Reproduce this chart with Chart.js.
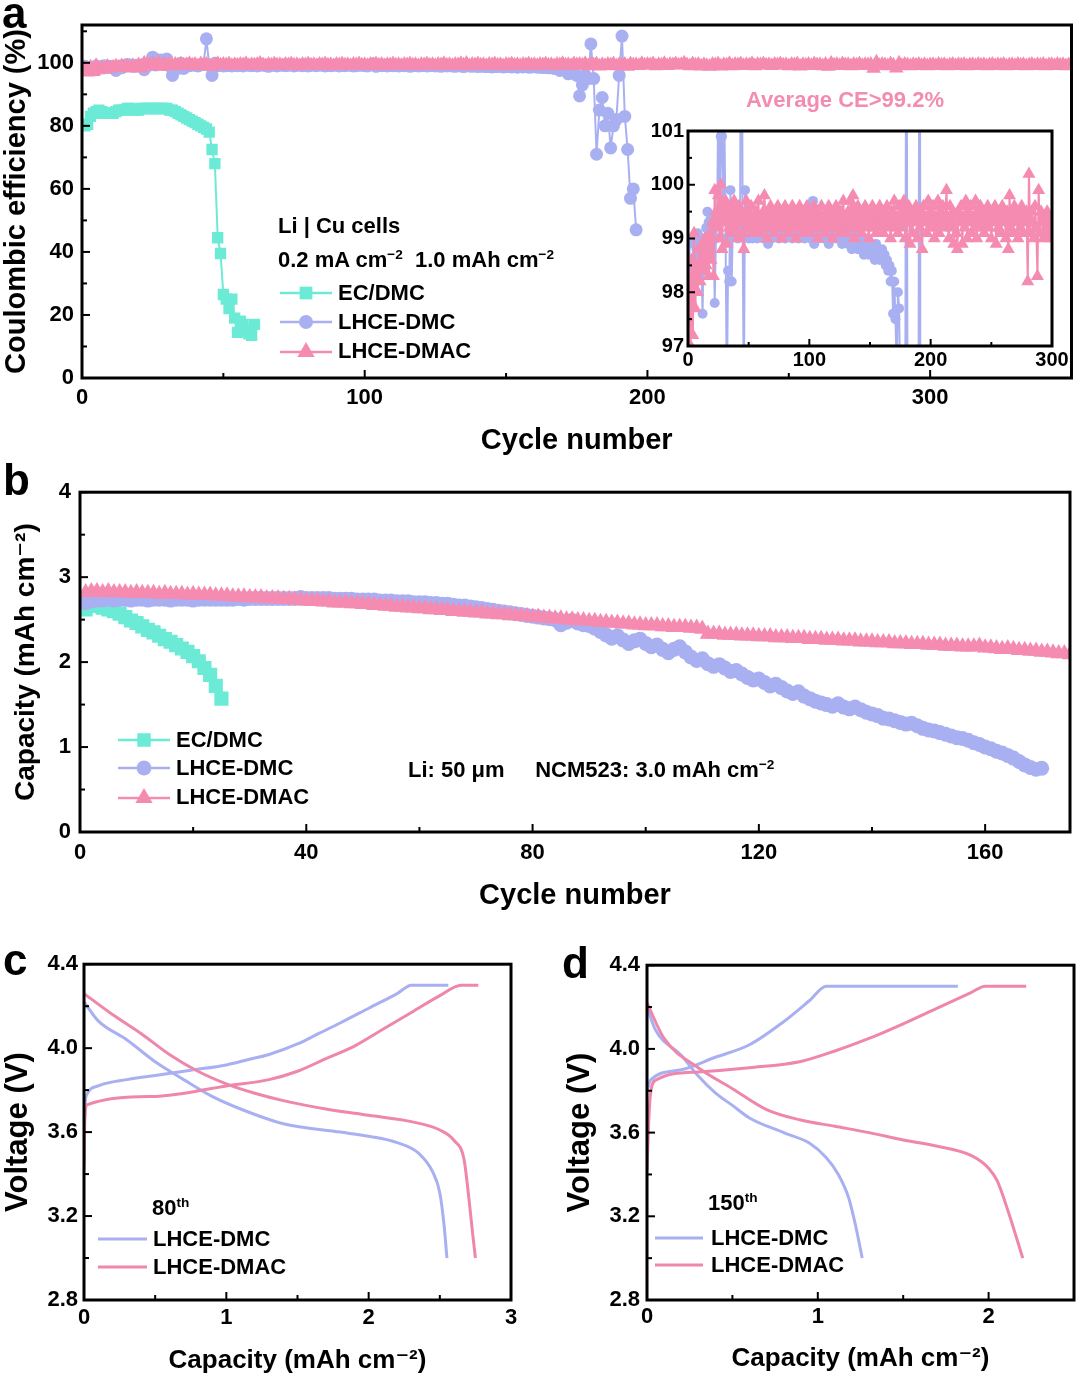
<!DOCTYPE html>
<html><head><meta charset="utf-8">
<script src="https://cdn.jsdelivr.net/npm/chart.js@4.4.0/dist/chart.umd.min.js"></script>
<style>
html,body{margin:0;padding:0;background:#fff;}
#wrap{position:relative;width:1080px;height:1377px;overflow:hidden;font-family:'Liberation Sans',Arial,'DejaVu Sans',sans-serif;color:#000;background:#fff;}
canvas{position:absolute;}
.t{position:absolute;white-space:nowrap;line-height:1;font-weight:bold;font-size:22px;}
.t sup{font-size:0.62em;vertical-align:super;line-height:0;}
.lbl{font-size:44px;}
</style></head><body><div id="wrap">
<canvas id="cA" width="1080" height="460" style="left:0;top:0"></canvas>
<canvas id="cI" width="440" height="260" style="left:640px;top:115px"></canvas>
<canvas id="cB" width="1080" height="450" style="left:0;top:470px"></canvas>
<canvas id="cC" width="540" height="432" style="left:0;top:945px"></canvas>
<canvas id="cD" width="520" height="432" style="left:560px;top:945px"></canvas>

<div class="t lbl" style="left:2px;top:-9px">a</div>
<div class="t lbl" style="left:3px;top:458px">b</div>
<div class="t lbl" style="left:3px;top:938px">c</div>
<div class="t lbl" style="left:562px;top:941px">d</div>

<div class="t" style="left:278px;top:215px">Li | Cu cells</div>
<div class="t" style="left:278px;top:249px">0.2 mA cm<sup>−2</sup>&nbsp; 1.0 mAh cm<sup>−2</sup></div>
<div class="t" style="left:338px;top:282px">EC/DMC</div>
<div class="t" style="left:338px;top:311px">LHCE-DMC</div>
<div class="t" style="left:338px;top:340px">LHCE-DMAC</div>
<div class="t" style="left:845px;top:89px;transform:translateX(-50%);color:#F28CB1">Average CE&gt;99.2%</div>

<div class="t" style="left:176px;top:729px">EC/DMC</div>
<div class="t" style="left:176px;top:757px">LHCE-DMC</div>
<div class="t" style="left:176px;top:786px">LHCE-DMAC</div>
<div class="t" style="left:408px;top:759px">Li: 50 μm&nbsp;&nbsp;&nbsp;&nbsp; NCM523: 3.0 mAh cm<sup>−2</sup></div>

<div class="t" style="left:152px;top:1197px">80<sup>th</sup></div>
<div class="t" style="left:153px;top:1228px">LHCE-DMC</div>
<div class="t" style="left:153px;top:1256px">LHCE-DMAC</div>

<div class="t" style="left:708px;top:1192px">150<sup>th</sup></div>
<div class="t" style="left:711px;top:1227px">LHCE-DMC</div>
<div class="t" style="left:711px;top:1254px">LHCE-DMAC</div>
</div>
<script>
// ---------------- DATA ----------------
const seriesNames = ['EC/DMC', 'LHCE-DMC', 'LHCE-DMAC'];
const colors = { ec: '#6BEBD6', dmc: '#A9B0F2', dmac: '#F58BB1', dmacLine: '#EF86AB' };

// Panel a: Coulombic efficiency (%) per cycle (cycle = index + 1)
const ceEC = [80.0, 80.5, 83.0, 84.0, 84.5, 85.0, 84.5, 84.0, 84.0, 84.0,
  84.0, 84.5, 85.0, 85.0, 85.0, 85.5, 85.5, 85.0, 85.0, 85.0,
  85.5, 85.5, 85.5, 85.5, 85.5, 85.5, 85.5, 85.5, 85.5, 85.5,
  85.0, 85.0, 84.5, 84.0, 83.5, 83.0, 82.5, 82.0, 81.5, 81.0,
  80.5, 80.0, 79.5, 79.0, 78.0, 72.5, 68.0, 44.5, 39.5, 26.5,
  25.0, 22.0, 25.0, 19.0, 14.5, 18.0, 17.0, 15.0, 14.0, 13.5, 17.0];

const ceDMC = [98.9, 98.3, 97.8, 98.6, 99.0, 98.2, 98.8, 99.1, 98.5, 98.9,
  98.7, 97.6, 99.0, 98.4, 99.2, 99.5, 99.3, 98.9, 99.2, 99.1,
  99.4, 97.8, 99.0, 99.3, 101.8, 99.3, 100.9, 100.9, 99.5, 101.2,
  99.0, 96.0, 98.4, 98.2, 99.9, 98.2, 99.3, 99.1, 99.4, 99.2,
  99.0, 99.3, 99.5, 107.6, 99.2, 96.0, 99.9, 99.1, 99.3, 99.0,
  99.1, 99.2, 99.0, 99.3, 99.1, 99.2, 99.0, 99.3, 99.2, 99.1,
  99.3, 99.0, 99.2, 99.4, 99.1, 98.9, 99.2, 99.3, 99.0, 99.2,
  99.3, 99.1, 99.2, 99.4, 99.0, 99.2, 99.3, 99.1, 99.2, 99.0,
  99.2, 99.3, 99.1, 99.4, 99.2, 99.0, 99.3, 99.1, 99.2, 99.3,
  99.0, 99.2, 99.1, 99.3, 99.2, 99.0, 99.1, 99.3, 99.2, 99.1,
  99.0, 99.3, 99.7, 98.9, 99.2, 99.1, 99.3, 99.0, 99.2, 99.1,
  99.2, 99.0, 99.3, 99.1, 99.2, 98.9, 99.1, 99.2, 99.0, 99.1,
  99.2, 99.0, 99.1, 99.3, 99.0, 99.1, 98.9, 99.2, 99.0, 99.1,
  99.0, 98.9, 99.1, 99.0, 98.8, 99.1, 99.0, 98.9, 99.2, 98.8,
  99.0, 98.9, 98.8, 99.0, 98.7, 98.9, 98.8, 99.0, 98.7, 98.8,
  98.9, 98.7, 98.8, 98.6, 98.9, 98.7, 98.8, 98.6, 98.7, 98.8,
  98.6, 98.7, 98.5, 98.6, 98.4, 98.5, 98.2, 98.4, 97.6, 98.2,
  97.5, 96.5, 98.0, 97.7, 96.0, 89.5, 93.0, 96.0, 95.0, 106.0,
  95.0, 71.0, 85.0, 89.0, 80.0, 84.0, 73.0, 80.0, 82.0, 96.0,
  108.5, 83.0, 72.5, 57.0, 60.0, 47.0];

const ceDMAC = [98.3, 97.0, 98.6, 97.2, 99.1, 97.7, 98.5, 98.0, 98.8, 98.2,
  98.6, 98.9, 98.4, 99.0, 98.5, 98.9, 98.3, 99.1, 98.6, 99.3,
  98.3, 99.9, 99.5, 99.2, 99.8, 99.0, 100.0, 98.8, 99.6, 99.3,
  99.7, 98.9, 99.5, 99.2, 99.6, 99.1, 99.4, 99.7, 99.2, 99.5,
  99.0, 99.6, 99.3, 99.5, 99.1, 98.8, 99.4, 99.7, 99.2, 99.5,
  99.3, 99.6, 99.1, 99.4, 99.2, 99.5, 99.3, 99.7, 99.1, 99.4,
  99.2, 99.5, 99.8, 99.3, 99.0, 99.5, 99.2, 99.6, 99.3, 99.4,
  99.1, 99.5, 99.3, 99.6, 99.2, 99.4, 99.0, 99.5, 99.3, 99.6,
  99.2, 99.4, 99.1, 99.5, 99.3, 99.6, 99.2, 99.4, 99.0, 99.5,
  99.3, 99.6, 99.2, 99.4, 99.1, 99.5, 99.3, 99.6, 99.2, 99.4,
  99.1, 99.5, 99.3, 99.6, 99.2, 99.5, 99.0, 99.4, 99.3, 99.6,
  99.2, 99.4, 99.1, 99.5, 99.3, 99.6, 99.2, 99.4, 99.0, 99.5,
  99.3, 99.6, 99.2, 99.4, 99.1, 99.5, 99.3, 99.7, 99.2, 99.4,
  99.1, 99.5, 99.3, 99.7, 99.2, 99.8, 99.0, 99.5, 99.3, 99.6,
  99.2, 99.4, 99.1, 99.5, 99.3, 99.6, 99.2, 99.4, 99.0, 99.5,
  99.3, 99.6, 99.2, 99.4, 99.1, 99.5, 99.3, 99.6, 99.2, 99.4,
  99.1, 99.5, 99.3, 99.6, 99.2, 99.4, 99.0, 99.5, 99.3, 99.7,
  99.2, 99.4, 99.1, 99.6, 99.3, 99.5, 99.2, 99.7, 99.0, 99.5,
  99.3, 99.6, 98.9, 99.4, 99.1, 99.5, 99.3, 99.6, 99.0, 99.4,
  99.2, 99.5, 98.8, 99.6, 99.3, 99.4, 99.1, 99.7, 99.2, 99.5,
  99.3, 99.6, 99.0, 99.4, 99.2, 99.7, 99.1, 99.5, 99.3, 99.6,
  99.2, 99.4, 99.9, 99.3, 99.0, 99.6, 99.2, 99.5, 98.9, 99.4,
  99.1, 98.8, 99.5, 99.3, 99.6, 98.9, 99.4, 99.2, 99.7, 99.0,
  99.5, 99.3, 99.6, 99.1, 99.4, 99.2, 99.7, 99.0, 99.5, 99.3,
  99.6, 99.2, 99.4, 99.1, 99.5, 99.3, 99.6, 99.2, 99.4, 99.0,
  99.5, 99.3, 99.6, 98.9, 99.4, 99.2, 99.5, 99.1, 99.6, 99.3,
  99.4, 99.0, 99.5, 98.8, 99.8, 99.2, 99.5, 99.1, 99.6, 99.3,
  99.4, 99.0, 99.5, 99.2, 99.6, 99.1, 99.4, 99.3, 99.5, 98.2,
  100.2, 99.1, 99.5, 99.3, 99.0, 99.6, 99.2, 98.3, 99.9, 99.1,
  99.5, 99.3, 99.0, 99.4, 99.2, 99.5, 99.1, 99.4, 99.0, 99.3,
  99.4, 99.1, 99.5, 99.2, 99.4, 99.0, 99.3, 99.5, 99.1, 99.4,
  99.2, 99.5, 99.0, 99.3, 99.4, 99.1, 99.5, 99.2, 99.4, 99.0,
  99.3, 99.5, 99.1, 99.4, 99.2, 99.5, 99.0, 99.3, 99.4, 99.1,
  99.5, 99.2, 99.4, 99.0, 99.3, 99.5, 99.1, 99.4, 99.2, 99.5,
  99.0, 99.3, 99.4, 99.1, 99.5, 99.2, 99.4, 99.0, 99.3, 99.2];

// Panel b: discharge capacity (mAh cm-2) per cycle (cycle = index + 1)
const capEC = [2.62, 2.68, 2.66, 2.64, 2.62, 2.60, 2.57, 2.53, 2.49, 2.46,
  2.42, 2.38, 2.35, 2.31, 2.27, 2.24, 2.20, 2.16, 2.12, 2.07,
  2.01, 1.93, 1.85, 1.72, 1.57];
const capDMC = [2.70, 2.72, 2.73, 2.73, 2.74, 2.73, 2.74, 2.74, 2.73, 2.74,
  2.74, 2.73, 2.74, 2.74, 2.74, 2.73, 2.74, 2.74, 2.74, 2.73,
  2.74, 2.74, 2.74, 2.74, 2.74, 2.74, 2.74, 2.75, 2.74, 2.75,
  2.75, 2.75, 2.75, 2.75, 2.75, 2.75, 2.75, 2.75, 2.76, 2.75,
  2.75, 2.75, 2.75, 2.75, 2.74, 2.74, 2.74, 2.74, 2.73, 2.73,
  2.73, 2.73, 2.72, 2.72, 2.72, 2.71, 2.71, 2.71, 2.70, 2.70,
  2.70, 2.69, 2.69, 2.68, 2.68, 2.67, 2.66, 2.66, 2.65, 2.64,
  2.63, 2.62, 2.61, 2.60, 2.59, 2.58, 2.57, 2.56, 2.55, 2.54,
  2.53, 2.52, 2.51, 2.50, 2.44, 2.47, 2.49, 2.46, 2.44, 2.43,
  2.40, 2.36, 2.32, 2.28, 2.31, 2.26, 2.22, 2.25, 2.27, 2.22,
  2.18, 2.20, 2.15, 2.11, 2.15, 2.18, 2.12, 2.06, 2.02, 2.04,
  1.98, 1.95, 1.97, 1.93, 1.89, 1.90, 1.86, 1.82, 1.79, 1.80,
  1.76, 1.72, 1.74, 1.70, 1.66, 1.63, 1.65, 1.60, 1.57, 1.54,
  1.52, 1.50, 1.48, 1.51, 1.47, 1.45, 1.47, 1.44, 1.41, 1.39,
  1.37, 1.34, 1.33, 1.31, 1.29, 1.27, 1.28, 1.25, 1.22, 1.20,
  1.19, 1.17, 1.15, 1.13, 1.11, 1.10, 1.08, 1.05, 1.03, 1.00,
  0.98, 0.95, 0.93, 0.90, 0.87, 0.83, 0.79, 0.76, 0.74, 0.75];
const capDMAC = [2.82, 2.83, 2.83, 2.82, 2.83, 2.82, 2.82, 2.82, 2.81, 2.82,
  2.81, 2.81, 2.81, 2.80, 2.81, 2.80, 2.80, 2.80, 2.79, 2.80,
  2.79, 2.79, 2.79, 2.78, 2.78, 2.78, 2.77, 2.77, 2.77, 2.76,
  2.76, 2.76, 2.75, 2.75, 2.75, 2.74, 2.74, 2.73, 2.73, 2.72,
  2.72, 2.72, 2.71, 2.71, 2.70, 2.70, 2.70, 2.69, 2.69, 2.68,
  2.68, 2.67, 2.67, 2.66, 2.66, 2.65, 2.65, 2.64, 2.64, 2.63,
  2.63, 2.62, 2.62, 2.61, 2.61, 2.60, 2.60, 2.59, 2.59, 2.58,
  2.58, 2.57, 2.57, 2.56, 2.56, 2.55, 2.55, 2.54, 2.54, 2.53,
  2.53, 2.52, 2.52, 2.51, 2.51, 2.50, 2.50, 2.49, 2.49, 2.48,
  2.48, 2.47, 2.47, 2.46, 2.46, 2.45, 2.45, 2.44, 2.44, 2.43,
  2.43, 2.43, 2.42, 2.42, 2.41, 2.41, 2.41, 2.40, 2.40, 2.39,
  2.33, 2.33, 2.33, 2.32, 2.32, 2.32, 2.31, 2.31, 2.31, 2.30,
  2.30, 2.30, 2.29, 2.29, 2.29, 2.28, 2.28, 2.28, 2.27, 2.27,
  2.27, 2.26, 2.26, 2.26, 2.25, 2.25, 2.25, 2.24, 2.24, 2.24,
  2.23, 2.23, 2.23, 2.22, 2.22, 2.22, 2.21, 2.21, 2.21, 2.20,
  2.20, 2.20, 2.19, 2.19, 2.19, 2.18, 2.18, 2.18, 2.19, 2.17,
  2.17, 2.16, 2.15, 2.16, 2.15, 2.14, 2.14, 2.13, 2.13, 2.12,
  2.12, 2.11, 2.10, 2.10, 2.09];

// Panel c: 80th cycle voltage profiles (capacity, voltage)
const c80DmcChgX = [0, 0.005, 0.02, 0.1, 0.3, 0.5, 0.75, 1.0, 1.15, 1.3, 1.5, 1.65, 1.8, 2.0, 2.2, 2.3, 2.56];
const c80DmcChgY = [3.45, 3.70, 3.78, 3.82, 3.85, 3.87, 3.895, 3.92, 3.945, 3.97, 4.02, 4.07, 4.12, 4.19, 4.26, 4.30, 4.30];
const c80DmcDisX = [0, 0.1, 0.3, 0.5, 0.7, 0.9, 1.1, 1.4, 1.8, 2.0, 2.2, 2.35, 2.45, 2.5, 2.53, 2.55];
const c80DmcDisY = [4.22, 4.13, 4.04, 3.935, 3.85, 3.77, 3.71, 3.64, 3.60, 3.58, 3.55, 3.50, 3.41, 3.31, 3.155, 3.0];
const c80DmacChgX = [0, 0.005, 0.02, 0.5, 1.0, 1.3, 1.5, 1.7, 1.9, 2.1, 2.3, 2.5, 2.65, 2.77];
const c80DmacChgY = [3.42, 3.65, 3.73, 3.77, 3.82, 3.85, 3.89, 3.95, 4.01, 4.09, 4.17, 4.25, 4.30, 4.30];
const c80DmacDisX = [0, 0.2, 0.4, 0.6, 0.8, 1.0, 1.2, 1.4, 1.7, 2.0, 2.3, 2.5, 2.6, 2.67, 2.7, 2.73, 2.75];
const c80DmacDisY = [4.26, 4.16, 4.07, 3.97, 3.89, 3.83, 3.785, 3.75, 3.71, 3.68, 3.65, 3.61, 3.56, 3.47, 3.31, 3.12, 3.0];

// Panel d: 150th cycle voltage profiles
const c150DmcChgX = [0, 0.02, 0.2, 0.4, 0.6, 0.8, 0.95, 1.05, 1.82];
const c150DmcChgY = [3.80, 3.85, 3.90, 3.96, 4.02, 4.13, 4.23, 4.30, 4.30];
const c150DmcDisX = [0, 0.05, 0.2, 0.3, 0.4, 0.5, 0.6, 0.8, 0.95, 1.05, 1.12, 1.18, 1.22, 1.26];
const c150DmcDisY = [4.20, 4.09, 3.97, 3.87, 3.79, 3.73, 3.67, 3.60, 3.55, 3.48, 3.40, 3.29, 3.16, 3.0];
const c150DmacChgX = [0, 0.01, 0.02, 0.05, 0.3, 0.6, 0.9, 1.1, 1.3, 1.5, 1.7, 1.9, 1.98, 2.22];
const c150DmacChgY = [3.42, 3.65, 3.78, 3.85, 3.89, 3.91, 3.94, 3.99, 4.05, 4.12, 4.195, 4.27, 4.30, 4.30];
const c150DmacDisX = [0, 0.1, 0.3, 0.5, 0.7, 0.9, 1.1, 1.3, 1.5, 1.7, 1.9, 2.0, 2.05, 2.12, 2.2];
const c150DmacDisY = [4.22, 4.05, 3.91, 3.81, 3.71, 3.66, 3.63, 3.60, 3.565, 3.535, 3.49, 3.43, 3.37, 3.21, 3.0];

// ---------------- RENDER ----------------
const FONT = "'Liberation Sans', Arial, 'DejaVu Sans', sans-serif";
const byCycle = ys => ys.map((y, i) => ({ x: i + 1, y }));
const byXY = (xs, ys) => ys.map((y, i) => ({ x: xs[i], y }));

function marker(ctx, style, x, y, r, color) {
  ctx.save();
  ctx.fillStyle = color;
  ctx.beginPath();
  if (style === 'rect') { const s = r * Math.SQRT1_2; ctx.rect(x - s, y - s, 2 * s, 2 * s); }
  else if (style === 'circle') { ctx.arc(x, y, r, 0, Math.PI * 2); }
  else if (style === 'triangle') { ctx.moveTo(x, y - r); ctx.lineTo(x + r * 0.866, y + r * 0.5); ctx.lineTo(x - r * 0.866, y + r * 0.5); ctx.closePath(); }
  ctx.fill();
  ctx.restore();
}

const framePlugin = {
  id: 'frameTicks',
  beforeDatasetsDraw(chart, args, o) {
    if (o.fill) {
      const a = chart.chartArea, c = chart.ctx;
      c.save(); c.fillStyle = '#fff'; c.fillRect(a.left, a.top, a.right - a.left, a.bottom - a.top); c.restore();
    }
  },
  afterDraw(chart, args, o) {
    const ctx = chart.ctx, a = chart.chartArea;
    ctx.save();
    ctx.strokeStyle = '#000';
    const tickSet = (scale, horizontal) => {
      const vals = scale.ticks.map(t => t.value);
      const minors = [];
      for (let i = 0; i < vals.length - 1; i++) minors.push((vals[i] + vals[i + 1]) / 2);
      if (vals.length > 1) {
        const st = vals[1] - vals[0];
        const last = vals[vals.length - 1] + st / 2;
        if (last < scale.max - 1e-6) minors.push(last);
        const first = vals[0] - st / 2;
        if (first > scale.min + 1e-6) minors.push(first);
      }
      const draw = (v, len) => {
        const p = scale.getPixelForValue(v);
        ctx.beginPath();
        if (horizontal) { ctx.moveTo(p, a.bottom); ctx.lineTo(p, a.bottom - len); }
        else { ctx.moveTo(a.left, p); ctx.lineTo(a.left + len, p); }
        ctx.stroke();
      };
      ctx.lineWidth = 2;
      vals.forEach(v => draw(v, o.major || 8));
      minors.forEach(v => draw(v, o.minor || 5));
    };
    tickSet(chart.scales.x, true);
    tickSet(chart.scales.y, false);
    ctx.lineWidth = o.lw || 3;
    ctx.strokeRect(a.left, a.top, a.right - a.left, a.bottom - a.top);
    (o.legend || []).forEach(it => {
      ctx.strokeStyle = it.color; ctx.lineWidth = it.lw || 2.5;
      ctx.beginPath(); ctx.moveTo(it.x1, it.y); ctx.lineTo(it.x2, it.y); ctx.stroke();
      if (it.style) marker(ctx, it.style, (it.x1 + it.x2) / 2, it.y, it.r || 6, it.color);
    });
    ctx.restore();
  }
};

function scale(o) {
  return {
    type: 'linear', min: o.min, max: o.max,
    grid: { display: false, drawTicks: false }, border: { display: false },
    ticks: { stepSize: o.step, includeBounds: false, color: '#000', padding: o.pad,
      font: { family: FONT, size: o.tickSize || 22, weight: 'bold' },
      callback: o.fmt || (v => String(v)) },
    title: o.title ? { display: true, text: o.title, color: '#000',
      font: { family: FONT, size: o.titleSize || 29, weight: 'bold' }, padding: o.titlePad } : { display: false },
    afterFit: s => { if (o.w !== undefined) s.width = o.w; if (o.h !== undefined) s.height = o.h; }
  };
}

function lineSet(label, data, color, style, r, bw, order) {
  return { label, data, borderColor: color, backgroundColor: color, borderWidth: bw,
    pointStyle: style || false, pointRadius: style ? r : 0, pointBackgroundColor: color,
    pointBorderColor: color, pointBorderWidth: 0, order: order, tension: 0, spanGaps: true };
}

function make(id, datasets, xs, ys, padding, frame) {
  return new Chart(document.getElementById(id), {
    type: 'line',
    data: { datasets },
    options: {
      responsive: false, animation: false, devicePixelRatio: 1,
      layout: { padding },
      plugins: { legend: { display: false }, tooltip: { enabled: false }, frameTicks: frame },
      scales: { x: xs, y: ys },
      elements: { line: { borderJoinStyle: 'round' } }
    },
    plugins: [framePlugin]
  });
}

// Panel a (main)
make('cA', [
  lineSet(seriesNames[0], byCycle(ceEC), colors.ec, 'rect', 8, 2, 2),
  lineSet(seriesNames[1], byCycle(ceDMC), colors.dmc, 'circle', 6.5, 2, 1),
  lineSet(seriesNames[2], byCycle(ceDMAC), colors.dmac, 'triangle', 8.5, 2, 0)
],
  scale({ min: 0, max: 350, step: 100, pad: 7, title: 'Cycle number', titlePad: { bottom: 2 }, h: 82 }),
  scale({ min: 0, max: 112, step: 20, pad: 8, title: 'Coulombic efficiency (%)', titlePad: { top: 0 }, w: 82 }),
  { top: 25, right: 6, left: 0, bottom: 0 },
  { legend: [
    { x1: 280, x2: 332, y: 293, color: colors.ec, style: 'rect', r: 9 },
    { x1: 280, x2: 332, y: 322, color: colors.dmc, style: 'circle', r: 7 },
    { x1: 280, x2: 332, y: 352, color: colors.dmac, style: 'triangle', r: 10 }
  ] });

// Panel a (inset)
make('cI', [
  lineSet(seriesNames[1], byCycle(ceDMC), colors.dmc, 'circle', 5, 2, 1),
  lineSet(seriesNames[2], byCycle(ceDMAC), colors.dmac, 'triangle', 7.5, 2, 0)
],
  scale({ min: 0, max: 300, step: 100, pad: 2, tickSize: 20, h: 29 }),
  scale({ min: 97, max: 101, step: 1, pad: 4, tickSize: 20, w: 48 }),
  { top: 13, right: 28, left: 0, bottom: 0 },
  { fill: true, major: 7, minor: 4 });

// Panel b
make('cB', [
  lineSet(seriesNames[0], byCycle(capEC), colors.ec, 'rect', 10, 2, 2),
  lineSet(seriesNames[1], byCycle(capDMC), colors.dmc, 'circle', 7.5, 2, 1),
  lineSet(seriesNames[2], byCycle(capDMAC), colors.dmac, 'triangle', 9.5, 2, 0)
],
  scale({ min: 0, max: 175, step: 40, pad: 8, title: 'Cycle number', titlePad: { bottom: 7 }, h: 88 }),
  scale({ min: 0, max: 4, step: 1, pad: 9, title: 'Capacity (mAh cm⁻²)', titleSize: 28, titlePad: { top: 9 }, w: 80 }),
  { top: 17, right: 6, left: 0, bottom: 0 },
  { legend: [
    { x1: 118, x2: 170, y: 270, color: colors.ec, style: 'rect', r: 9.5 },
    { x1: 118, x2: 170, y: 298, color: colors.dmc, style: 'circle', r: 7.5 },
    { x1: 118, x2: 170, y: 328, color: colors.dmac, style: 'triangle', r: 10 }
  ] });

const vfmt = v => Number(v).toFixed(1);
// Panel c
make('cC', [
  lineSet('LHCE-DMC charge', byXY(c80DmcChgX, c80DmcChgY), colors.dmc, null, 0, 3, 1),
  lineSet('LHCE-DMC discharge', byXY(c80DmcDisX, c80DmcDisY), colors.dmc, null, 0, 3, 1),
  lineSet('LHCE-DMAC charge', byXY(c80DmacChgX, c80DmacChgY), colors.dmacLine, null, 0, 3, 0),
  lineSet('LHCE-DMAC discharge', byXY(c80DmacDisX, c80DmacDisY), colors.dmacLine, null, 0, 3, 0)
].map(d => Object.assign(d, { cubicInterpolationMode: 'monotone' })),
  scale({ min: 0, max: 3, step: 1, pad: 5, title: 'Capacity (mAh cm⁻²)', titleSize: 26, titlePad: { bottom: 1 }, h: 77 }),
  scale({ min: 2.8, max: 4.4, step: 0.4, pad: 6, fmt: vfmt, title: 'Voltage (V)', titleSize: 31, titlePad: { top: 0 }, w: 84 }),
  { top: 18, right: 29, left: 0, bottom: 0 },
  { legend: [
    { x1: 98, x2: 147, y: 294, color: colors.dmc, lw: 3 },
    { x1: 98, x2: 147, y: 322, color: colors.dmacLine, lw: 3 }
  ] });

// Panel d
make('cD', [
  lineSet('LHCE-DMC charge', byXY(c150DmcChgX, c150DmcChgY), colors.dmc, null, 0, 3, 1),
  lineSet('LHCE-DMC discharge', byXY(c150DmcDisX, c150DmcDisY), colors.dmc, null, 0, 3, 1),
  lineSet('LHCE-DMAC charge', byXY(c150DmacChgX, c150DmacChgY), colors.dmacLine, null, 0, 3, 0),
  lineSet('LHCE-DMAC discharge', byXY(c150DmacDisX, c150DmacDisY), colors.dmacLine, null, 0, 3, 0)
].map(d => Object.assign(d, { cubicInterpolationMode: 'monotone' })),
  scale({ min: 0, max: 2.5, step: 1, pad: 4, title: 'Capacity (mAh cm⁻²)', titleSize: 26, titlePad: { bottom: 3 }, h: 77 }),
  scale({ min: 2.8, max: 4.4, step: 0.4, pad: 7, fmt: vfmt, title: 'Voltage (V)', titleSize: 31, titlePad: { top: 2 }, w: 87 }),
  { top: 18, right: 6, left: 0, bottom: 0 },
  { legend: [
    { x1: 95, x2: 143, y: 293, color: colors.dmc, lw: 3 },
    { x1: 95, x2: 143, y: 320, color: colors.dmacLine, lw: 3 }
  ] });
</script>
</body></html>
